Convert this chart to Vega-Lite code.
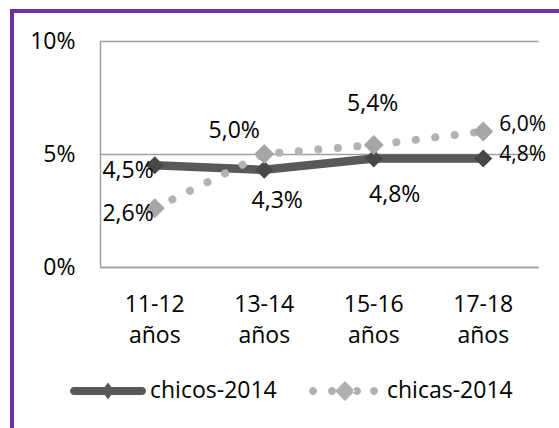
{
  "$schema": "https://vega.github.io/schema/vega-lite/v6.json",
  "width": 550,
  "height": 420,
  "autosize": {"type": "none"},
  "padding": {"left": 12, "top": 11, "right": -3, "bottom": -3},
  "background": "white",
  "config": {
    "view": {"stroke": "#7030a0", "strokeWidth": 4},
    "font": "Open Sans"
  },
  "data": {
    "values": [
      {"age": "11-12 años", "series": "chicos-2014", "value": 4.5},
      {"age": "13-14 años", "series": "chicos-2014", "value": 4.3},
      {"age": "15-16 años", "series": "chicos-2014", "value": 4.8},
      {"age": "17-18 años", "series": "chicos-2014", "value": 4.8},
      {"age": "11-12 años", "series": "chicas-2014", "value": 2.6},
      {"age": "13-14 años", "series": "chicas-2014", "value": 5.0},
      {"age": "15-16 años", "series": "chicas-2014", "value": 5.4},
      {"age": "17-18 años", "series": "chicas-2014", "value": 6.0}
    ]
  },
  "transform": [
    {"calculate": "replace(format(datum.value, '.1f'), '.', ',') + '%'", "as": "lbl"}
  ],
  "encoding": {
    "x": {
      "field": "age",
      "type": "nominal",
      "bandPosition": 0.5,
      "scale": {
        "type": "band",
        "domain": ["11-12 años", "13-14 años", "15-16 años", "17-18 años"],
        "range": [88, 526],
        "paddingInner": 0,
        "paddingOuter": 0
      },
      "axis": {
        "title": null,
        "orient": "bottom",
        "offset": -164,
        "domain": true,
        "domainColor": "#a0a0a0",
        "domainWidth": 1.5,
        "ticks": false,
        "grid": false,
        "labelFontSize": 23,
        "labelFont": "Open Sans",
        "labelColor": "#000000",
        "labelPadding": 26,
        "labelBaseline": "top",
        "labelLineHeight": 31.5,
        "labelAngle": 0,
        "labelExpr": "split(datum.value, ' ')"
      }
    },
    "y": {
      "field": "value",
      "type": "quantitative",
      "scale": {"domain": [0, 10], "range": [256, 30], "nice": false, "zero": false},
      "axis": {
        "title": null,
        "values": [0, 5, 10],
        "labelExpr": "datum.value + '%'",
        "offset": -88,
        "domain": true,
        "domainColor": "#a0a0a0",
        "domainWidth": 1.5,
        "ticks": false,
        "grid": true,
        "gridColor": "#a0a0a0",
        "gridWidth": 1.5,
        "labelFontSize": 23,
        "labelFont": "Open Sans",
        "labelColor": "#000000",
        "labelPadding": 25
      }
    }
  },
  "layer": [
    {
      "transform": [{"filter": "datum.series === 'chicos-2014'"}],
      "mark": {"type": "line", "strokeWidth": 8.5, "strokeCap": "butt"},
      "encoding": {
        "color": {
          "field": "series",
          "type": "nominal",
          "scale": {"domain": ["chicos-2014", "chicas-2014"], "range": ["#595959", "#b3b3b3"]},
          "legend": {
            "title": null,
            "orient": "none",
            "legendX": 58,
            "legendY": 342,
            "direction": "horizontal",
            "symbolSize": 5776,
            "symbolType": "circle",
            "labelFontSize": 23,
            "labelFont": "Open Sans",
            "labelColor": "#000000",
            "labelOffset": 4,
            "columnPadding": 30,
            "padding": 0,
            "encode": {
              "symbols": {
                "update": {
                  "shape": {"signal": "datum.value === 'chicos-2014' ? 'M-0.895 -0.105 L0.895 -0.105 A0.105 0.105 0 0 1 0.895 0.105 L-0.895 0.105 A0.105 0.105 0 0 1 -0.895 -0.105 Z M0 -0.224 L0.158 0 L0 0.224 L-0.158 0 Z' : 'M-0.947 0 A0.105 0.105 0 1 0 -0.737 0 A0.105 0.105 0 1 0 -0.947 0 Z M-0.447 0 A0.105 0.105 0 1 0 -0.237 0 A0.105 0.105 0 1 0 -0.447 0 Z M0.211 0 A0.105 0.105 0 1 0 0.421 0 A0.105 0.105 0 1 0 0.211 0 Z M0.658 0 A0.105 0.105 0 1 0 0.868 0 A0.105 0.105 0 1 0 0.658 0 Z M0 -0.263 L0.263 0 L0 0.263 L-0.263 0 Z'"},
                  "fill": {"signal": "datum.value === 'chicos-2014' ? '#595959' : '#b0b0b0'"},
                  "fillOpacity": {"value": 1},
                  "opacity": {"value": 1},
                  "stroke": {"value": "transparent"},
                  "strokeWidth": {"value": 0},
                  "size": {"value": 5776}
                }
              }
            }
          }
        }
      }
    },
    {
      "transform": [{"filter": "datum.series === 'chicos-2014'"}],
      "mark": {"type": "point", "shape": "diamond", "filled": true, "size": 324, "color": "#474747", "opacity": 1}
    },
    {
      "transform": [{"filter": "datum.series === 'chicas-2014'"}],
      "mark": {"type": "line", "strokeWidth": 8, "strokeDash": [0.1, 19.5], "strokeCap": "round"},
      "encoding": {
        "color": {"field": "series", "type": "nominal"}
      }
    },
    {
      "transform": [{"filter": "datum.series === 'chicas-2014'"}],
      "mark": {"type": "point", "shape": "diamond", "filled": true, "size": 400, "color": "#a6a6a6", "opacity": 1}
    },
    {
      "transform": [{"filter": "datum.age === '11-12 años'"}],
      "mark": {"type": "text", "fontSize": 23, "fill": "#000000", "baseline": "middle", "align": "right", "dx": -1, "dy": 6},
      "encoding": {"text": {"field": "lbl"}}
    },
    {
      "transform": [{"filter": "datum.series === 'chicos-2014' && datum.age === '13-14 años'"}],
      "mark": {"type": "text", "fontSize": 23, "fill": "#000000", "baseline": "middle", "align": "center", "dx": 13, "dy": 31},
      "encoding": {"text": {"field": "lbl"}}
    },
    {
      "transform": [{"filter": "datum.series === 'chicos-2014' && datum.age === '15-16 años'"}],
      "mark": {"type": "text", "fontSize": 23, "fill": "#000000", "baseline": "middle", "align": "center", "dx": 21, "dy": 36},
      "encoding": {"text": {"field": "lbl"}}
    },
    {
      "transform": [{"filter": "datum.series === 'chicos-2014' && datum.age === '17-18 años'"}],
      "mark": {"type": "text", "fontSize": 21, "fill": "#000000", "baseline": "middle", "align": "left", "dx": 16, "dy": -4},
      "encoding": {"text": {"field": "lbl"}}
    },
    {
      "transform": [{"filter": "datum.series === 'chicas-2014' && datum.age === '13-14 años'"}],
      "mark": {"type": "text", "fontSize": 23, "fill": "#000000", "baseline": "middle", "align": "center", "dx": -30, "dy": -23.5},
      "encoding": {"text": {"field": "lbl"}}
    },
    {
      "transform": [{"filter": "datum.series === 'chicas-2014' && datum.age === '15-16 años'"}],
      "mark": {"type": "text", "fontSize": 23, "fill": "#000000", "baseline": "middle", "align": "center", "dx": -1, "dy": -40.5},
      "encoding": {"text": {"field": "lbl"}}
    },
    {
      "transform": [{"filter": "datum.series === 'chicas-2014' && datum.age === '17-18 años'"}],
      "mark": {"type": "text", "fontSize": 21, "fill": "#000000", "baseline": "middle", "align": "left", "dx": 16, "dy": -6},
      "encoding": {"text": {"field": "lbl"}}
    }
  ]
}
